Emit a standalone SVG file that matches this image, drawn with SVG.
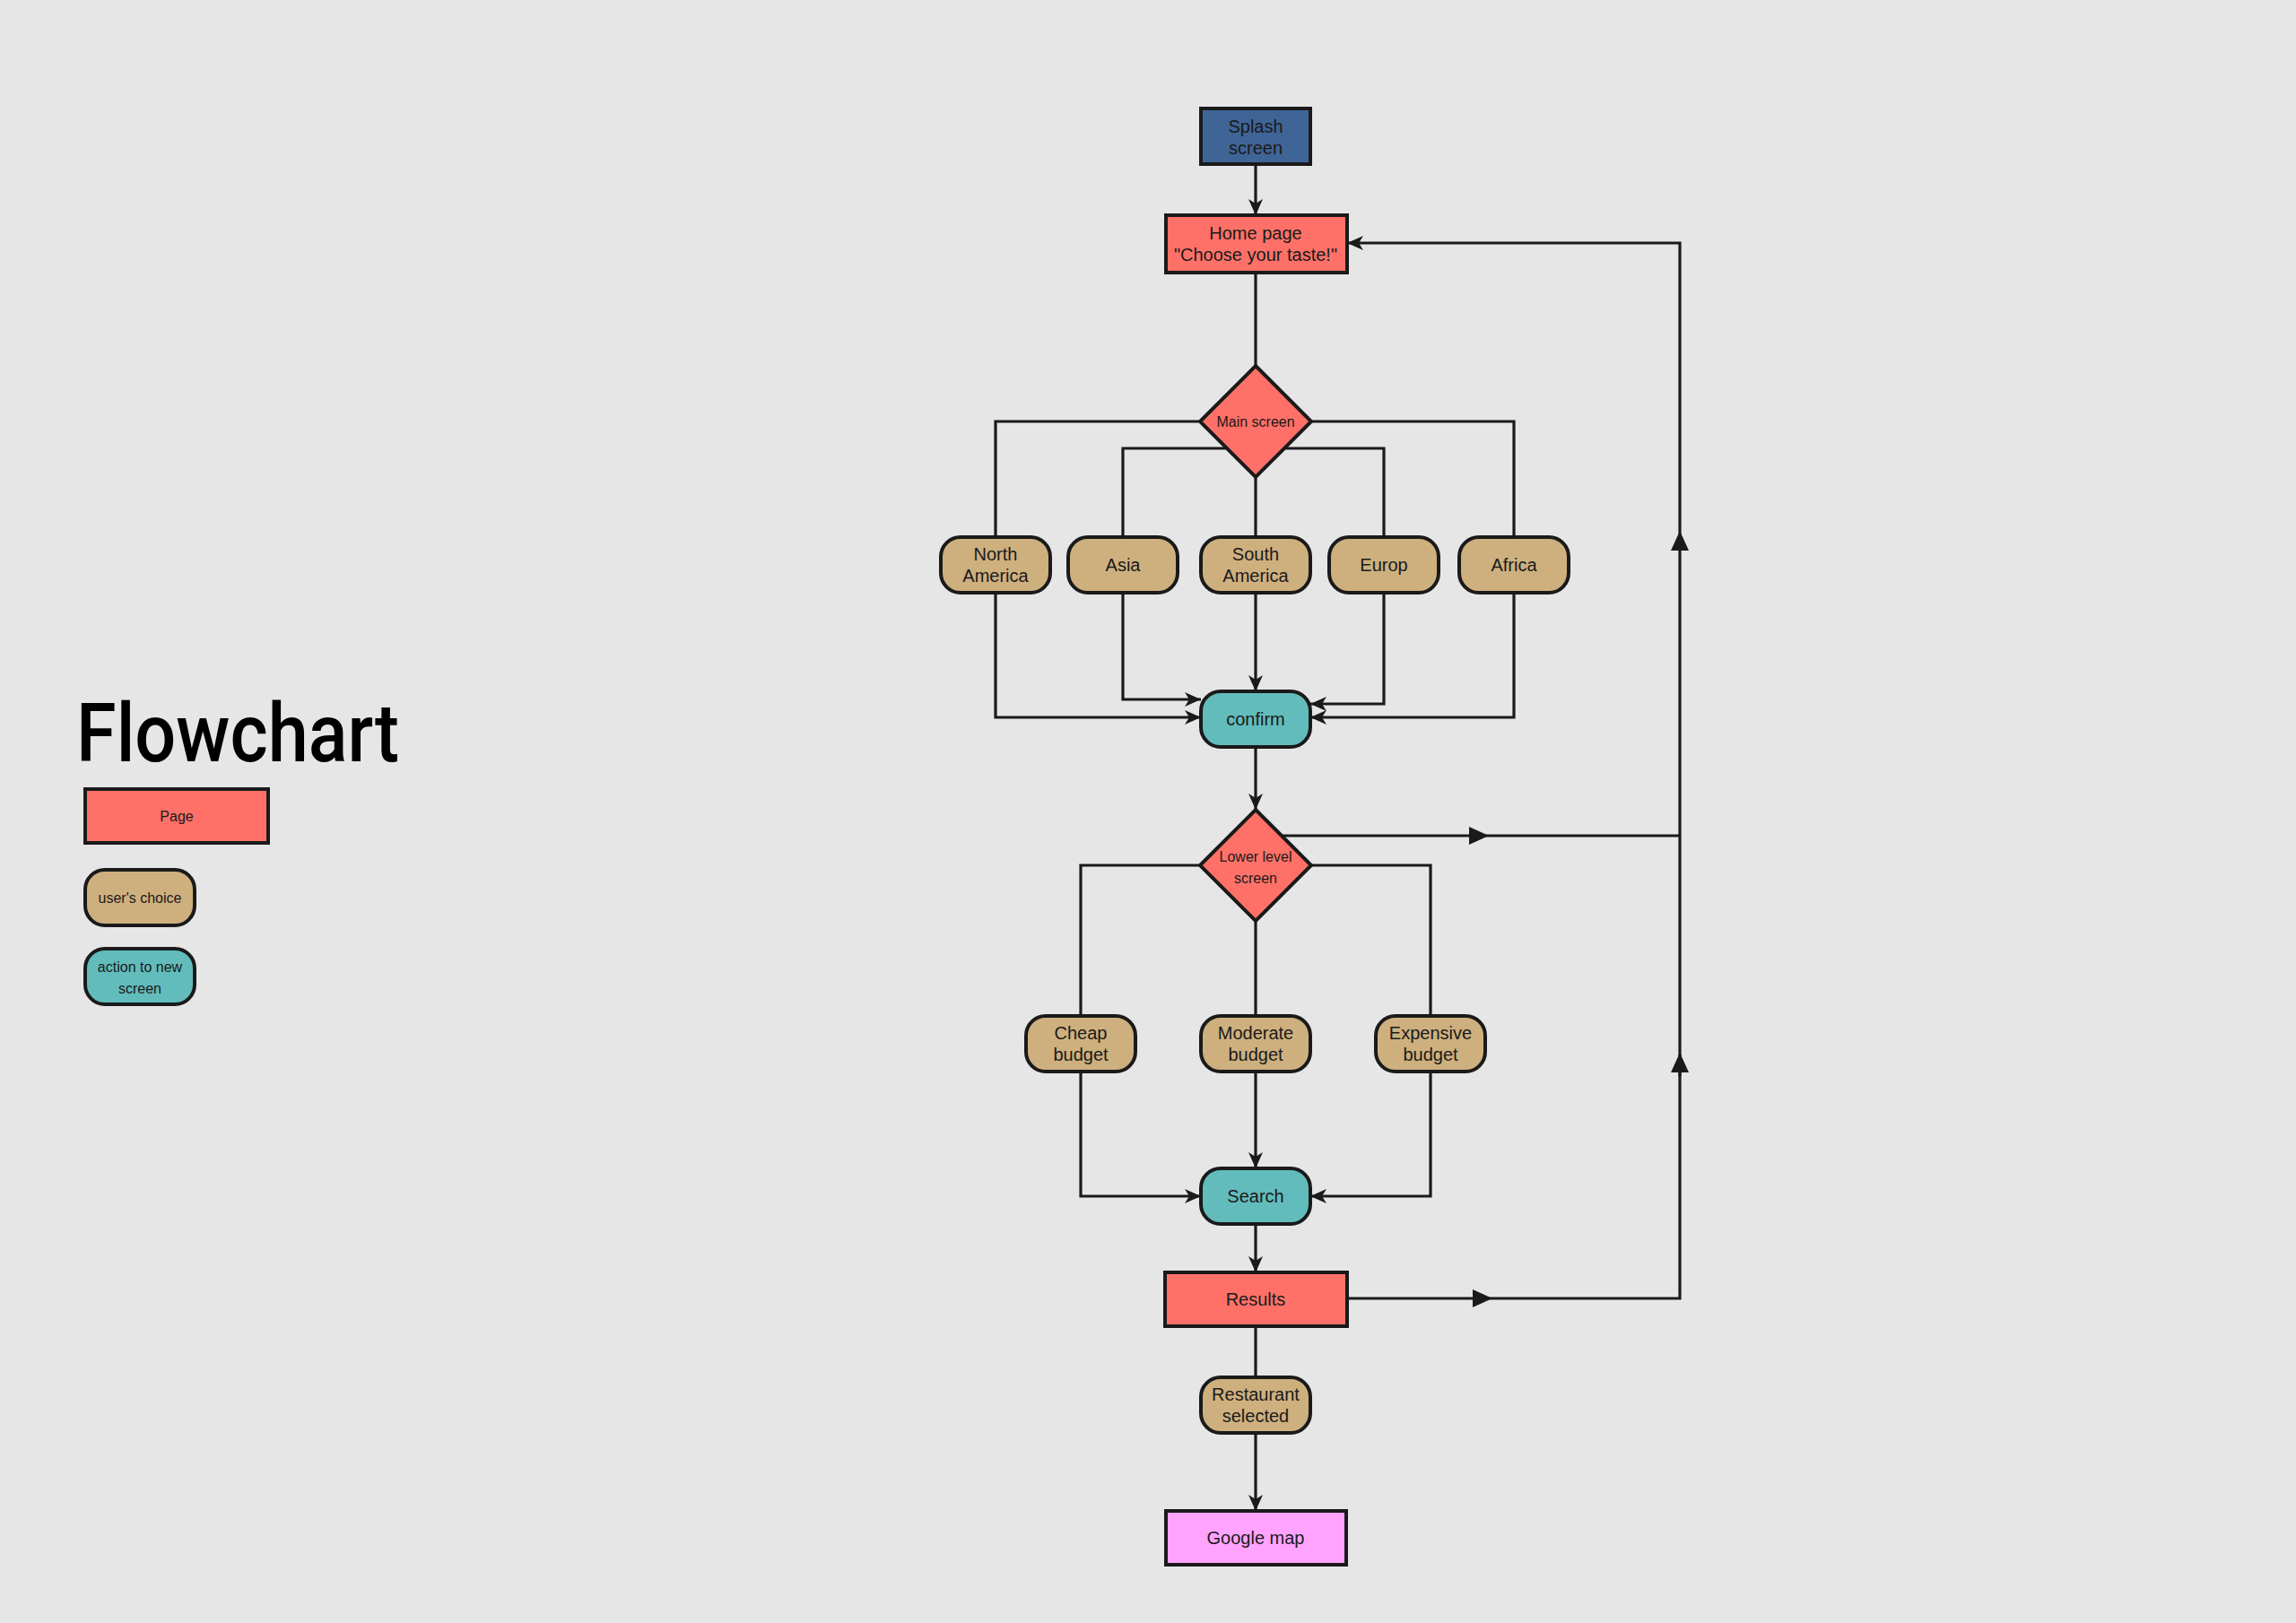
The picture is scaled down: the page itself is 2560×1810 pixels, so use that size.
<svg xmlns="http://www.w3.org/2000/svg" width="2560" height="1810" viewBox="0 0 2560 1810">
<defs>
<marker id="arr" markerUnits="userSpaceOnUse" markerWidth="20" markerHeight="18" refX="18" refY="9" orient="auto">
<path d="M0,1 L18,9 L0,17 L5,9 Z" fill="#1a1a1a"/>
</marker>
<marker id="arrMid" markerUnits="userSpaceOnUse" markerWidth="24" markerHeight="22" refX="22" refY="10" orient="auto">
<path d="M0,0 L22,10 L0,20 Z" fill="#1a1a1a"/>
</marker>
<style>
.page{fill:#ff7168;stroke:#1a1a1a;stroke-width:4}
.splash{fill:#3f6496;stroke:#1a1a1a;stroke-width:4}
.gmap{fill:#ffa3ff;stroke:#1a1a1a;stroke-width:4}
.choice{fill:#ceb07e;stroke:#1a1a1a;stroke-width:4}
.action{fill:#62bcbc;stroke:#1a1a1a;stroke-width:4}
.t{font-family:"Liberation Sans",Arial,sans-serif;font-size:20px;fill:#1a1a1a;text-anchor:middle}
.ts{font-family:"Liberation Sans",Arial,sans-serif;font-size:16px;fill:#1a1a1a;text-anchor:middle}
.c{fill:none;stroke:#1a1a1a;stroke-width:3.2;stroke-linejoin:miter}
.ca{fill:none;stroke:#1a1a1a;stroke-width:3.2;marker-end:url(#arr)}
.cm{fill:none;stroke:#1a1a1a;stroke-width:3.2;marker-end:url(#arrMid)}
</style>
</defs>
<rect width="2560" height="1810" fill="#e6e6e6"/>

<g id="connectors">
<path class="ca" d="M1400,183 L1400,240"/>
<path class="c" d="M1400,304 L1400,408"/>
<path class="c" d="M1338,470 L1110,470 L1110,599"/>
<path class="c" d="M1462,470 L1688,470 L1688,599"/>
<path class="c" d="M1369,500 L1252,500 L1252,599"/>
<path class="c" d="M1431,500 L1543,500 L1543,599"/>
<path class="c" d="M1400,532 L1400,599"/>
<path class="ca" d="M1110,661 L1110,800 L1339,800"/>
<path class="ca" d="M1252,661 L1252,780 L1339,780"/>
<path class="ca" d="M1400,661 L1400,771"/>
<path class="ca" d="M1543,661 L1543,785 L1461,785"/>
<path class="ca" d="M1688,661 L1688,800 L1461,800"/>
<path class="ca" d="M1400,833 L1400,903"/>
<path class="c" d="M1338,965 L1205,965 L1205,1133"/>
<path class="c" d="M1462,965 L1595,965 L1595,1133"/>
<path class="c" d="M1400,1027 L1400,1133"/>
<path class="ca" d="M1205,1195 L1205,1334 L1339,1334"/>
<path class="ca" d="M1400,1195 L1400,1303"/>
<path class="ca" d="M1595,1195 L1595,1334 L1461,1334"/>
<path class="ca" d="M1400,1365 L1400,1419"/>
<path class="c" d="M1400,1479 L1400,1536"/>
<path class="ca" d="M1400,1598 L1400,1685"/>
<path class="cm" d="M1502,1448 L1664,1448"/>
<path class="c" d="M1664,1448 L1873,1448 L1873,1176"/>
<path class="cm" d="M1873,1200 L1873,1174"/>
<path class="c" d="M1873,1174 L1873,932"/>
<path class="cm" d="M1430,932 L1660,932"/>
<path class="c" d="M1660,932 L1873,932"/>
<path class="cm" d="M1873,932 L1873,592"/>
<path class="ca" d="M1873,592 L1873,271 L1502,271"/>
</g>

<g id="legend-title">
<text x="85" y="849" font-family="Roboto, 'Liberation Sans', Arial, sans-serif" font-weight="500" font-size="90" fill="#000" textLength="360" lengthAdjust="spacingAndGlyphs">Flowchart</text>
</g>
<g id="legend-page">
<rect class="page" x="95" y="880" width="204" height="60"/>
<text class="ts" x="197" y="916">Page</text>
</g>
<g id="legend-choice">
<rect class="choice" x="95" y="970" width="122" height="62" rx="22"/>
<text class="ts" x="156" y="1007">user's choice</text>
</g>
<g id="legend-action">
<rect class="action" x="95" y="1058" width="122" height="62" rx="22"/>
<text class="ts" x="156" y="1084">action to new</text>
<text class="ts" x="156" y="1108">screen</text>
</g>

<g id="splash">
<rect class="splash" x="1339" y="121" width="122" height="62"/>
<text class="t" x="1400" y="148">Splash</text>
<text class="t" x="1400" y="172">screen</text>
</g>
<g id="home">
<rect class="page" x="1300" y="240" width="202" height="64"/>
<text class="t" x="1400" y="267">Home page</text>
<text class="t" x="1400" y="291">"Choose your taste!"</text>
</g>
<g id="main-screen">
<polygon class="page" points="1400,408 1462,470 1400,532 1338,470"/>
<text class="ts" x="1400" y="476">Main screen</text>
</g>
<g id="north-america">
<rect class="choice" x="1049" y="599" width="122" height="62" rx="22"/>
<text class="t" x="1110" y="625">North</text>
<text class="t" x="1110" y="649">America</text>
</g>
<g id="asia">
<rect class="choice" x="1191" y="599" width="122" height="62" rx="22"/>
<text class="t" x="1252" y="637">Asia</text>
</g>
<g id="south-america">
<rect class="choice" x="1339" y="599" width="122" height="62" rx="22"/>
<text class="t" x="1400" y="625">South</text>
<text class="t" x="1400" y="649">America</text>
</g>
<g id="europ">
<rect class="choice" x="1482" y="599" width="122" height="62" rx="22"/>
<text class="t" x="1543" y="637">Europ</text>
</g>
<g id="africa">
<rect class="choice" x="1627" y="599" width="122" height="62" rx="22"/>
<text class="t" x="1688" y="637">Africa</text>
</g>
<g id="confirm">
<rect class="action" x="1339" y="771" width="122" height="62" rx="22"/>
<text class="t" x="1400" y="809">confirm</text>
</g>
<g id="lower-level">
<polygon class="page" points="1400,903 1462,965 1400,1027 1338,965"/>
<text class="ts" x="1400" y="961">Lower level</text>
<text class="ts" x="1400" y="985">screen</text>
</g>
<g id="cheap">
<rect class="choice" x="1144" y="1133" width="122" height="62" rx="22"/>
<text class="t" x="1205" y="1159">Cheap</text>
<text class="t" x="1205" y="1183">budget</text>
</g>
<g id="moderate">
<rect class="choice" x="1339" y="1133" width="122" height="62" rx="22"/>
<text class="t" x="1400" y="1159">Moderate</text>
<text class="t" x="1400" y="1183">budget</text>
</g>
<g id="expensive">
<rect class="choice" x="1534" y="1133" width="122" height="62" rx="22"/>
<text class="t" x="1595" y="1159">Expensive</text>
<text class="t" x="1595" y="1183">budget</text>
</g>
<g id="search">
<rect class="action" x="1339" y="1303" width="122" height="62" rx="22"/>
<text class="t" x="1400" y="1341">Search</text>
</g>
<g id="results">
<rect class="page" x="1299" y="1419" width="203" height="60"/>
<text class="t" x="1400" y="1456">Results</text>
</g>
<g id="restaurant">
<rect class="choice" x="1339" y="1536" width="122" height="62" rx="22"/>
<text class="t" x="1400" y="1562">Restaurant</text>
<text class="t" x="1400" y="1586">selected</text>
</g>
<g id="google-map">
<rect class="gmap" x="1300" y="1685" width="201" height="60"/>
<text class="t" x="1400" y="1722">Google map</text>
</g>
</svg>
